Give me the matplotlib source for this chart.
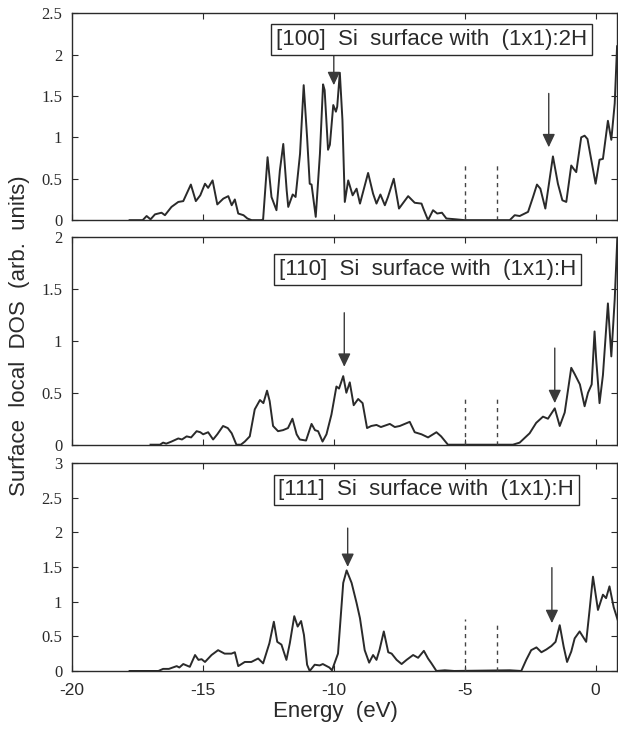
import matplotlib
matplotlib.use("Agg")
import matplotlib.pyplot as plt

plt.rcParams['axes.unicode_minus'] = False

# ---------------- data ----------------
e100 = [-17.8, -17.3, -17.15, -17.0, -16.83, -16.58, -16.45, -16.2, -15.94, -15.75, -15.46, -15.27, -15.1,
        -14.92, -14.8, -14.63, -14.45, -14.22, -14.03, -13.9, -13.78, -13.65, -13.45, -13.3, -13.14, -12.76,
        -12.70, -12.53, -12.38, -12.19, -12.06, -11.93, -11.8, -11.74, -11.57, -11.46, -11.29, -11.15, -11.02,
        -10.92, -10.85, -10.69, -10.53, -10.41, -10.35, -10.22, -10.15, -10.02, -9.92, -9.87, -9.77, -9.67,
        -9.58, -9.45, -9.28, -9.13, -9.0, -8.69, -8.5, -8.37, -8.22, -8.05, -7.93, -7.71, -7.51, -7.16, -6.91,
        -6.65, -6.58, -6.4, -6.21, -6.05, -5.87, -5.70, -5.33, -5.0, -3.4, -3.28, -3.09, -2.9, -2.58, -2.39,
        -2.24, -2.11, -1.92, -1.63, -1.44, -1.27, -1.12, -0.93, -0.84, -0.74, -0.55, -0.42, -0.31, 0.0, 0.15,
        0.28, 0.47, 0.6, 0.73, 0.82]
d100 = [0, 0, 0.05, 0.01, 0.07, 0.09, 0.06, 0.16, 0.22, 0.23, 0.43, 0.23, 0.30,
        0.44, 0.39, 0.48, 0.19, 0.26, 0.29, 0.18, 0.25, 0.08, 0.06, 0.02, 0, 0,
        0.01, 0.76, 0.28, 0.12, 0.60, 0.92, 0.36, 0.16, 0.31, 0.28, 0.80, 1.63, 1.0,
        0.44, 0.43, 0.04, 0.80, 1.64, 1.57, 0.85, 0.91, 1.39, 1.31, 1.37, 1.78, 1.21,
        0.22, 0.48, 0.30, 0.38, 0.20, 0.57, 0.32, 0.20, 0.31, 0.18, 0.28, 0.50, 0.14, 0.29, 0.21,
        0.20, 0.14, 0, 0.12, 0.08, 0.09, 0.02, 0.01, 0, 0, 0, 0.06, 0.05, 0.10, 0.28,
        0.43, 0.38, 0.14, 0.77, 0.44, 0.24, 0.22, 0.66, 0.62, 0.58, 1.0, 1.02, 0.98, 0.44, 0.73,
        0.74, 1.2, 0.97, 1.41, 2.1]

e110 = [-17.0, -16.64, -16.52, -16.4, -16.2, -15.94, -15.8, -15.62, -15.45, -15.24, -15.1, -14.99, -14.80,
        -14.61, -14.45, -14.23, -14.05, -13.9, -13.72, -13.55, -13.4, -13.21, -13.02, -12.82, -12.69, -12.55,
        -12.45, -12.32, -12.13, -11.94, -11.75, -11.58, -11.42, -11.3, -11.06, -10.85, -10.72, -10.6, -10.43,
        -10.28, -10.09, -9.9, -9.8, -9.64, -9.52, -9.39, -9.24, -9.07, -8.9, -8.73, -8.57, -8.37, -8.2, -7.86,
        -7.67, -7.48, -7.1, -6.91, -6.65, -6.4, -6.08, -5.9, -5.64, -3.3, -3.16, -2.9, -2.52, -2.27, -2.01,
        -1.82, -1.56, -1.37, -1.18, -0.93, -0.8, -0.6, -0.42, -0.29, -0.15, -0.04, 0.02, 0.15, 0.28, 0.47,
        0.6, 0.73, 0.84]
d110 = [0, 0, 0.02, 0.01, 0.03, 0.06, 0.05, 0.08, 0.07, 0.13, 0.12, 0.10, 0.12,
        0.05, 0.10, 0.18, 0.16, 0.11, 0, 0, 0.03, 0.08, 0.34, 0.43, 0.40, 0.52,
        0.42, 0.18, 0.13, 0.14, 0.16, 0.25, 0.10, 0.05, 0.04, 0.20, 0.14, 0.13, 0.03,
        0.10, 0.29, 0.56, 0.54, 0.66, 0.50, 0.60, 0.38, 0.44, 0.40, 0.16, 0.18, 0.19, 0.17, 0.20,
        0.17, 0.18, 0.22, 0.12, 0.10, 0.07, 0.12, 0.08, 0, 0, 0, 0.02, 0.11, 0.21, 0.27,
        0.25, 0.35, 0.18, 0.31, 0.74, 0.68, 0.58, 0.37, 0.5, 0.58, 1.09, 0.83, 0.40, 0.67, 1.36,
        0.85, 1.40, 2.05]

e111 = [-17.8, -16.7, -16.52, -16.3, -16.0, -15.9, -15.75, -15.5, -15.3, -15.17, -15.05, -14.92, -14.67,
        -14.42, -14.17, -13.91, -13.78, -13.65, -13.4, -13.15, -12.89, -12.7, -12.46, -12.29, -12.16, -12.0,
        -11.81, -11.68, -11.51, -11.38, -11.25, -11.14, -11.02, -10.92, -10.73, -10.54, -10.42, -10.17, -10.07,
        -9.84, -9.64, -9.51, -9.32, -9.13, -9.0, -8.82, -8.65, -8.5, -8.37, -8.25, -8.09, -7.92, -7.79, -7.6,
        -7.41, -7.22, -6.97, -6.78, -6.56, -6.4, -6.27, -6.08, -5.76, -5.4, -3.28, -2.84, -2.65, -2.46, -2.26,
        -2.07, -1.88, -1.69, -1.53, -1.37, -1.22, -1.09, -0.93, -0.80, -0.61, -0.36, -0.23, -0.10, 0.09, 0.28,
        0.40, 0.53, 0.69, 0.84]
d111 = [0, 0, 0.03, 0.03, 0.07, 0.05, 0.10, 0.06, 0.23, 0.16, 0.17, 0.13, 0.23,
        0.30, 0.25, 0.25, 0.27, 0.07, 0.13, 0.13, 0.18, 0.11, 0.40, 0.71, 0.42, 0.38,
        0.16, 0.40, 0.79, 0.64, 0.72, 0.52, 0.09, 0, 0.09, 0.08, 0.10, 0.05, 0.01,
        0.25, 1.27, 1.45, 1.27, 0.98, 0.76, 0.30, 0.12, 0.23, 0.16, 0.31, 0.57, 0.27, 0.25, 0.16,
        0.10, 0.16, 0.23, 0.19, 0.29, 0.18, 0.11, 0, 0.01, 0, 0.01, 0, 0.16, 0.30, 0.34,
        0.27, 0.31, 0.36, 0.42, 0.66, 0.35, 0.13, 0.28, 0.47, 0.57, 0.42, 0.88, 1.36, 0.88, 1.10,
        1.05, 1.22, 0.92, 0.74]

labels = ["[100]  Si  surface with  (1x1):2H",
          "[110]  Si  surface with  (1x1):H",
          "[111]  Si  surface with  (1x1):H"]
ymax = [2.5, 2.0, 3.0]
yticks = [[0, 0.5, 1, 1.5, 2, 2.5], [0, 0.5, 1, 1.5, 2], [0, 0.5, 1, 1.5, 2, 2.5, 3]]
yticklabels = [["0", "0.5", "1", "1.5", "2", "2.5"], ["0", "0.5", "1", "1.5", "2"],
               ["0", "0.5", "1", "1.5", "2", "2.5", "3"]]
xticks = [-20, -15, -10, -5, 0]
xticklabels = ["-20", "-15", "-10", "-5", "0"]

# dashed markers (energy, height) per panel
dash_e = [-5.0, -3.75]
dash_h = [[0.69, 0.69], [0.46, 0.46], [0.75, 0.66]]

# arrows: (energy, y_start, y_tip) per panel
arrows = [[(-10.0, 1.99, 1.63), (-1.79, 1.53, 0.88)],
          [(-9.6, 1.27, 0.75), (-1.56, 0.93, 0.40)],
          [(-9.47, 2.06, 1.50), (-1.67, 1.49, 0.69)]]

label_pos = [(0.659, 0.874), (0.653, 0.844), (0.650, 0.870)]

# ---------------- figure ----------------
fig = plt.figure(figsize=(6.18, 7.29), dpi=100)
rects = [[0.1165, 0.698, 0.882, 0.284],
         [0.1165, 0.390, 0.882, 0.285],
         [0.1165, 0.0796, 0.882, 0.2854]]

data = [(e100, d100), (e110, d110), (e111, d111)]
ink = '#2a2a2a'

for i in range(3):
    ax = fig.add_axes(rects[i])
    e, d = data[i]
    ax.plot(e, d, color=ink, lw=1.4, solid_joinstyle='round', clip_on=True)
    ax.set_xlim(-20, 0.82)
    ax.set_ylim(0, ymax[i])
    ax.set_yticks(yticks[i])
    ax.set_yticklabels(yticklabels[i], family='Liberation Serif', fontsize=12)
    ax.set_xticks(xticks)
    if i == 2:
        ax.set_xticklabels(xticklabels, family='Liberation Sans', fontsize=12.5)
    else:
        ax.set_xticklabels([])
    ax.tick_params(direction='in', length=4, width=0.8, colors=ink, top=True, right=True)
    ax.tick_params(axis='y', pad=7)
    ax.tick_params(axis='x', pad=9)
    for s in ax.spines.values():
        s.set_color(ink)
        s.set_linewidth(1.0)
    for k in range(2):
        ax.plot([dash_e[k], dash_e[k]], [0, dash_h[i][k]], color='#444444', lw=1.0,
                linestyle=(0, (3, 3)))
    for (xa, y0, y1) in arrows[i]:
        ax.annotate('', xy=(xa, y1), xytext=(xa, y0),
                    arrowprops=dict(arrowstyle='-|>,head_length=0.8,head_width=0.38',
                                    color='#3a3a3a', lw=1.0, shrinkA=0, shrinkB=0))
    ax.text(label_pos[i][0], label_pos[i][1], labels[i], transform=ax.transAxes,
            ha='center', va='center', family='Liberation Sans', fontsize=16, color=ink,
            bbox=dict(boxstyle='square,pad=0.22', fc='white', ec=ink, lw=1.0))

fig.text(0.032, 1 - 336 / 729, "Surface  local  DOS  (arb.  units)", rotation=90,
         ha='center', va='center', family='Liberation Sans', fontsize=16, color=ink)
fig.text(0.542, 1 - 712 / 729, "Energy  (eV)", ha='center', va='center',
         family='Liberation Sans', fontsize=16, color=ink)

fig.savefig("out.png", dpi=100, facecolor='white')
